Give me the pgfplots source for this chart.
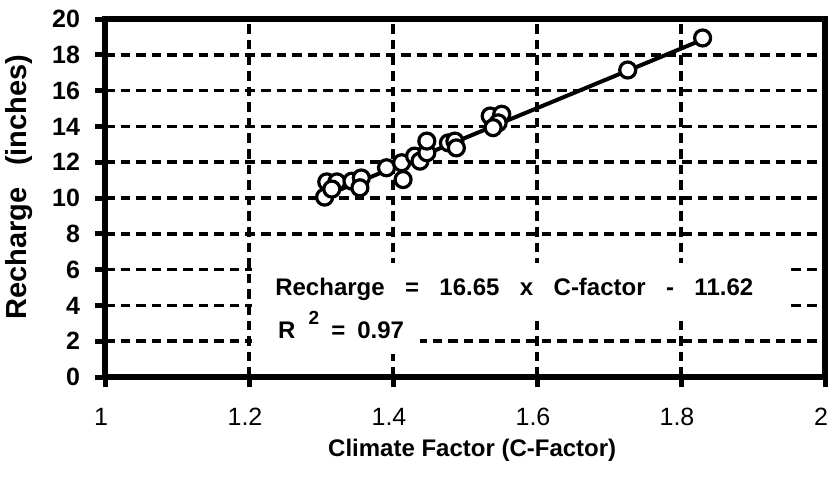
\documentclass[border=0pt]{standalone}
\usepackage{fontspec}
\setmainfont{Liberation Sans}
\usepackage{pgfplots}
\pgfplotsset{compat=1.18}
\pgfplotstableread{
x y
1.305 10.05
1.308 10.9
1.322 10.9
1.315 10.5
1.343 10.94
1.356 11.12
1.354 10.57
1.391 11.69
1.412 11.97
1.414 11.03
1.430 12.34
1.4375 12.06
1.447 12.53
1.447 13.18
1.477 13.08
1.486 13.18
1.488 12.80
1.535 14.58
1.551 14.68
1.546 14.20
1.539 13.93
1.726 17.15
1.830 18.94
}\datatable
\begin{document}
\begin{tikzpicture}
\useasboundingbox (-52.5pt,-53pt) rectangle (365pt,188.5pt);
\begin{axis}[
  scale only axis, width=360pt, height=179pt,
  xmin=1, xmax=2, ymin=0, ymax=20,
  xtick={1,1.2,1.4,1.6,1.8,2},
  xticklabels={1,1.2,1.4,1.6,1.8,2},
  ytick={0,2,4,6,8,10,12,14,16,18,20},
  /pgf/number format/assume math mode=true,
  axis line style={line width=2.8pt},
  tick align=outside, tick pos=left,
  major tick length=5pt,
  every tick/.style={black, line width=2.5pt},
  grid=major,
  major grid style={black, line width=1.8pt, dash pattern=on 4.8pt off 3pt},
  xticklabel style={font=\fontsize{12.5}{14}\selectfont, yshift=-7pt, xshift=-2pt},
  yticklabel style={font=\bfseries\fontsize{12.5}{14}\selectfont, xshift=-4pt},
  xlabel={Climate Factor (C-Factor)},
  ylabel={Recharge\hspace{0.75em}(inches)},
  xlabel style={font=\bfseries\fontsize{12}{14}\selectfont, at={(axis description cs:0.51,-0.205)}, anchor=center},
  ylabel style={font=\bfseries\fontsize{14.5}{16}\selectfont, at={(axis description cs:-0.12,0.53)}, anchor=center},
]
\addplot[no marks, black, line width=2pt] coordinates {(1.305,10.108) (1.835,18.93)};
\addplot[only marks, mark=*, mark size=4pt, mark options={fill=white, draw=black, line width=1.6pt}] table[x=x,y=y] {\datatable};
\fill[white] (axis cs:1.204,3.3) rectangle (axis cs:1.951,6.39);
\fill[white] (axis cs:1.204,1.3) rectangle (axis cs:1.4375,3.3);
\node[anchor=west, inner sep=0pt, font=\bfseries\fontsize{12}{14}\selectfont] at (axis cs:1.236,4.87)
  {Recharge\hspace{0.85em}=\hspace{0.85em}16.65\hspace{0.85em}x\hspace{0.85em}C-factor\hspace{0.85em}-\hspace{0.85em}11.62};
\node[anchor=west, inner sep=0pt, font=\bfseries\fontsize{12}{14}\selectfont] at (axis cs:1.24,2.9)
  {R\hspace{0.55em}\raisebox{1.1ex}{\fontsize{9.5}{10}\selectfont 2}\hspace{0.5em}=\hspace{0.5em}0.97};
\end{axis}
\end{tikzpicture}
\end{document}
